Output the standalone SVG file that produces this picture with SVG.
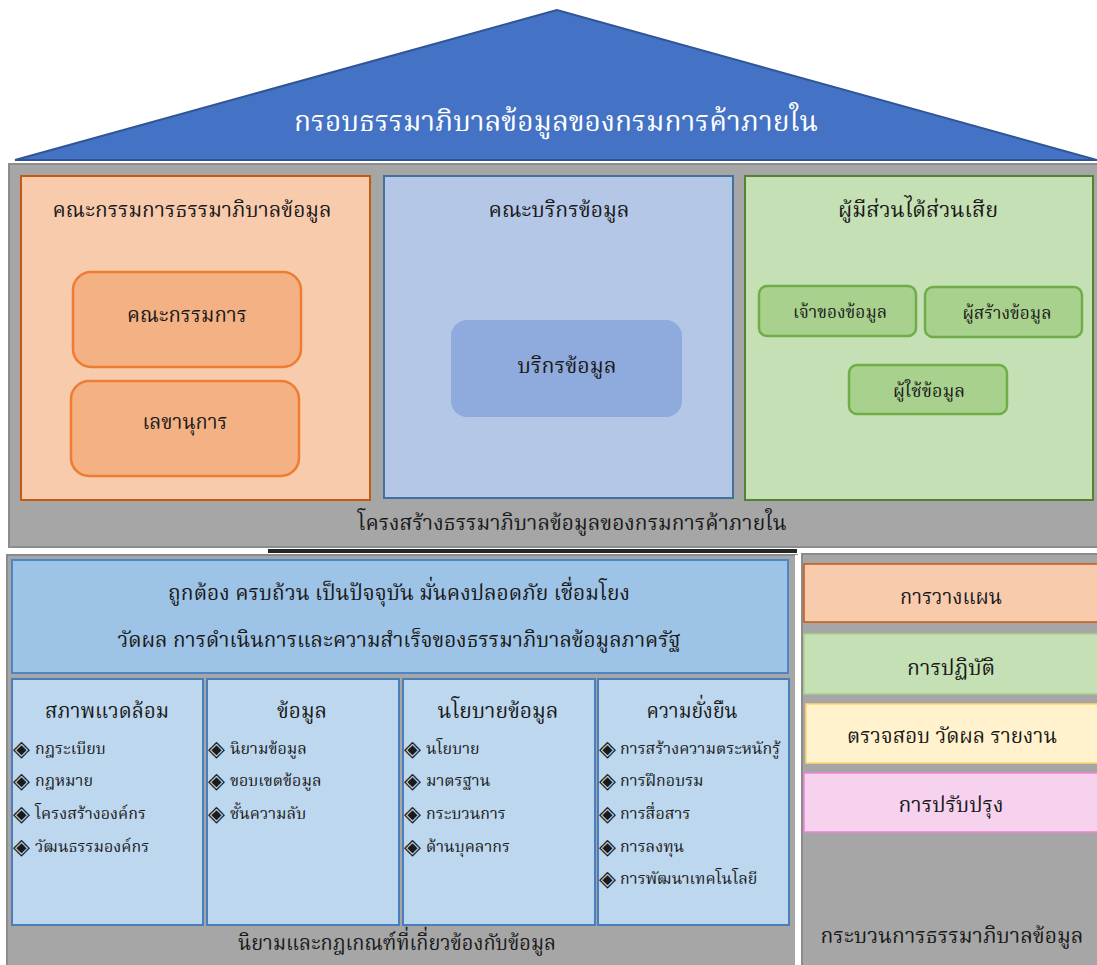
<svg xmlns="http://www.w3.org/2000/svg" width="1097" height="965" viewBox="0 0 1097 965">
<style>
.t{font-family:"Noto Serif Thai","Noto Sans Thai","Noto Sans","DejaVu Sans",sans-serif;fill:#1a1a1a;text-anchor:middle}
.l{font-family:"Noto Serif Thai","Noto Sans Thai","Noto Sans","DejaVu Sans",sans-serif;fill:#1a1a1a;font-size:16px}
.b{font-family:"DejaVu Sans",sans-serif;fill:#1a1a1a;font-size:22px}
.h{font-size:22px}
.gray{fill:#A6A6A6;stroke:#8C8C8C;stroke-width:2}
.col{fill:#BDD7EE;stroke:#4A7EBB;stroke-width:2}
</style>
<rect width="1097" height="965" fill="#FFFFFF"/>

<g id="roof">
<polygon points="557,10 15,160 1097,160" fill="#4472C4" stroke="#2F5597" stroke-width="2"/>
<text class="t" x="556" y="131" style="fill:#FFFFFF;font-size:28px" textLength="524" lengthAdjust="spacingAndGlyphs">กรอบธรรมาภิบาลข้อมูลของกรมการค้าภายใน</text>
</g>

<g id="structure-panel">
<rect class="gray" x="9" y="164" width="1090" height="383"/>
<text class="t h" x="572" y="530" textLength="429" lengthAdjust="spacingAndGlyphs">โครงสร้างธรรมาภิบาลข้อมูลของกรมการค้าภายใน</text>
</g>

<g id="committee">
<rect x="21" y="176" width="349" height="324" fill="#F8CBAD" stroke="#C55A11" stroke-width="2"/>
<text class="t h" x="192" y="217" textLength="279" lengthAdjust="spacingAndGlyphs">คณะกรรมการธรรมาภิบาลข้อมูล</text>
</g>
<g id="committee-board">
<rect x="73" y="272" width="228" height="95" rx="18" fill="#F4B183" stroke="#ED7D31" stroke-width="2.5"/>
<text class="t h" x="187" y="322" textLength="120" lengthAdjust="spacingAndGlyphs">คณะกรรมการ</text>
</g>
<g id="secretary">
<rect x="71" y="381" width="228" height="95" rx="18" fill="#F4B183" stroke="#ED7D31" stroke-width="2.5"/>
<text class="t h" x="185" y="429" textLength="85" lengthAdjust="spacingAndGlyphs">เลขานุการ</text>
</g>

<g id="stewards">
<rect x="384" y="176" width="349" height="322" fill="#B4C7E7" stroke="#41719C" stroke-width="2"/>
<text class="t h" x="559" y="217" textLength="141" lengthAdjust="spacingAndGlyphs">คณะบริกรข้อมูล</text>
</g>
<g id="data-steward">
<rect x="451" y="320" width="231" height="97" rx="16" fill="#8FAADC"/>
<text class="t h" x="567" y="373" textLength="99" lengthAdjust="spacingAndGlyphs">บริกรข้อมูล</text>
</g>

<g id="stakeholders">
<rect x="745" y="176" width="348" height="324" fill="#C5E0B4" stroke="#548235" stroke-width="2"/>
<text class="t h" x="918" y="217" textLength="160" lengthAdjust="spacingAndGlyphs">ผู้มีส่วนได้ส่วนเสีย</text>
</g>
<g id="data-owner">
<rect x="759" y="286" width="157" height="50" rx="8" fill="#A9D18E" stroke="#70AD47" stroke-width="2.5"/>
<text class="t" x="840" y="318" style="font-size:18px" textLength="94" lengthAdjust="spacingAndGlyphs">เจ้าของข้อมูล</text>
</g>
<g id="data-creator">
<rect x="925" y="287" width="157" height="50" rx="8" fill="#A9D18E" stroke="#70AD47" stroke-width="2.5"/>
<text class="t" x="1007" y="319" style="font-size:18px" textLength="89" lengthAdjust="spacingAndGlyphs">ผู้สร้างข้อมูล</text>
</g>
<g id="data-user">
<rect x="849" y="365" width="158" height="49" rx="8" fill="#A9D18E" stroke="#70AD47" stroke-width="2.5"/>
<text class="t" x="929" y="397" style="font-size:18px" textLength="72" lengthAdjust="spacingAndGlyphs">ผู้ใช้ข้อมูล</text>
</g>

<g id="separator">
<rect x="268" y="549" width="529" height="4" fill="#262626"/>
</g>

<g id="rules-panel">
<rect class="gray" x="7" y="555" width="790" height="412"/>
<text class="t h" x="397" y="950" textLength="318" lengthAdjust="spacingAndGlyphs">นิยามและกฎเกณฑ์ที่เกี่ยวข้องกับข้อมูล</text>
</g>
<g id="goals">
<rect x="12" y="560" width="776" height="113" fill="#9DC3E6" stroke="#4A86C8" stroke-width="2"/>
<text class="t h" x="399" y="600" textLength="462" lengthAdjust="spacingAndGlyphs">ถูกต้อง ครบถ้วน เป็นปัจจุบัน มั่นคงปลอดภัย เชื่อมโยง</text>
<text class="t h" x="399" y="647" textLength="563" lengthAdjust="spacingAndGlyphs">วัดผล การดำเนินการและความสำเร็จของธรรมาภิบาลข้อมูลภาครัฐ</text>
</g>

<g id="environment">
<rect class="col" x="12" y="679" width="191" height="246"/>
<text class="t h" x="107" y="718" textLength="124" lengthAdjust="spacingAndGlyphs">สภาพแวดล้อม</text>
<text class="b" x="13" y="756">◈</text><text class="l" x="35" y="754">กฎระเบียบ</text>
<text class="b" x="13" y="788">◈</text><text class="l" x="35" y="786">กฎหมาย</text>
<text class="b" x="13" y="821">◈</text><text class="l" x="35" y="819">โครงสร้างองค์กร</text>
<text class="b" x="13" y="854">◈</text><text class="l" x="35" y="852">วัฒนธรรมองค์กร</text>
</g>
<g id="data">
<rect class="col" x="207" y="679" width="192" height="246"/>
<text class="t h" x="302" y="718" textLength="50" lengthAdjust="spacingAndGlyphs">ข้อมูล</text>
<text class="b" x="208" y="756">◈</text><text class="l" x="230" y="754">นิยามข้อมูล</text>
<text class="b" x="208" y="788">◈</text><text class="l" x="230" y="786">ขอบเขตข้อมูล</text>
<text class="b" x="208" y="821">◈</text><text class="l" x="230" y="819">ชั้นความลับ</text>
</g>
<g id="policy">
<rect class="col" x="403" y="679" width="192" height="246"/>
<text class="t h" x="498" y="718" textLength="121" lengthAdjust="spacingAndGlyphs">นโยบายข้อมูล</text>
<text class="b" x="404" y="756">◈</text><text class="l" x="426" y="754">นโยบาย</text>
<text class="b" x="404" y="788">◈</text><text class="l" x="426" y="786">มาตรฐาน</text>
<text class="b" x="404" y="821">◈</text><text class="l" x="426" y="819">กระบวนการ</text>
<text class="b" x="404" y="854">◈</text><text class="l" x="426" y="852">ด้านบุคลากร</text>
</g>
<g id="sustainability">
<rect class="col" x="598" y="679" width="191" height="246"/>
<text class="t h" x="692" y="718" textLength="91" lengthAdjust="spacingAndGlyphs">ความยั่งยืน</text>
<text class="b" x="599" y="756">◈</text><text class="l" x="620" y="754">การสร้างความตระหนักรู้</text>
<text class="b" x="599" y="788">◈</text><text class="l" x="620" y="786">การฝึกอบรม</text>
<text class="b" x="599" y="821">◈</text><text class="l" x="620" y="819">การสื่อสาร</text>
<text class="b" x="599" y="854">◈</text><text class="l" x="620" y="852">การลงทุน</text>
<text class="b" x="599" y="886">◈</text><text class="l" x="620" y="884">การพัฒนาเทคโนโลยี</text>
</g>

<g id="process-panel">
<rect x="795" y="555" width="3" height="410" fill="#FFFFFF"/>
<rect class="gray" x="802" y="554" width="297" height="413"/>
<text class="t h" x="952" y="943" textLength="263" lengthAdjust="spacingAndGlyphs">กระบวนการธรรมาภิบาลข้อมูล</text>
</g>
<g id="plan">
<rect x="804" y="564" width="295" height="58" fill="#F8CBAD" stroke="#C55A11" stroke-width="1.5"/>
<text class="t h" x="951" y="604" textLength="102" lengthAdjust="spacingAndGlyphs">การวางแผน</text>
</g>
<g id="do">
<rect x="804" y="634" width="295" height="60" fill="#C5E0B4" stroke="#A9D18E" stroke-width="1.5"/>
<text class="t h" x="951" y="675" textLength="88" lengthAdjust="spacingAndGlyphs">การปฏิบัติ</text>
</g>
<g id="check">
<rect x="806" y="704" width="293" height="59" fill="#FFF2CC" stroke="#FFD966" stroke-width="1.5"/>
<text class="t h" x="952" y="743" textLength="210" lengthAdjust="spacingAndGlyphs">ตรวจสอบ วัดผล รายงาน</text>
</g>
<g id="act">
<rect x="804" y="773" width="295" height="59" fill="#F6D2EF" stroke="#EE82D8" stroke-width="1.5"/>
<text class="t h" x="951" y="812" textLength="105" lengthAdjust="spacingAndGlyphs">การปรับปรุง</text>
</g>
</svg>
